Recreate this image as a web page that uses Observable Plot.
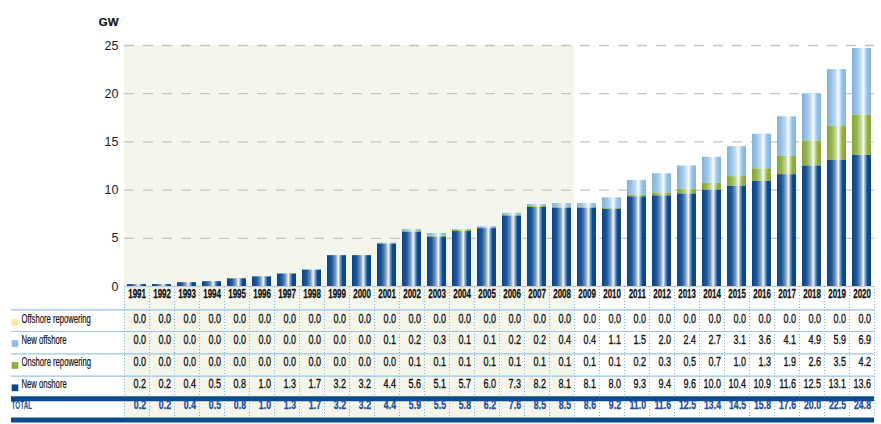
<!DOCTYPE html>
<html><head><meta charset="utf-8">
<script src="https://cdn.jsdelivr.net/npm/d3@7"></script>
<script src="https://cdn.jsdelivr.net/npm/@observablehq/plot@0.6"></script>
<style>
body{margin:0;background:#fff}
#chart svg{display:block;overflow:visible}
</style></head><body><div id="chart"></div>
<script>
const years = [1991,1992,1993,1994,1995,1996,1997,1998,1999,2000,2001,2002,2003,2004,2005,2006,2007,2008,2009,2010,2011,2012,2013,2014,2015,2016,2017,2018,2019,2020];
const offshoreRepowering = [0,0,0,0,0,0,0,0,0,0,0,0,0,0,0,0,0,0,0,0,0,0,0,0,0,0,0,0,0,0];
const newOffshore = [0,0,0,0,0,0,0,0,0,0,0.1,0.2,0.3,0.1,0.1,0.2,0.2,0.4,0.4,1.1,1.5,2.0,2.4,2.7,3.1,3.6,4.1,4.9,5.9,6.9];
const onshoreRepowering = [0,0,0,0,0,0,0,0,0,0,0,0.1,0.1,0.1,0.1,0.1,0.1,0.1,0.1,0.1,0.2,0.3,0.5,0.7,1.0,1.3,1.9,2.6,3.5,4.2];
const newOnshore = [0.2,0.2,0.4,0.5,0.8,1.0,1.3,1.7,3.2,3.2,4.4,5.6,5.1,5.7,6.0,7.3,8.2,8.1,8.1,8.0,9.3,9.4,9.6,10.0,10.4,10.9,11.6,12.5,13.1,13.6];
const totals = [0.2,0.2,0.4,0.5,0.8,1.0,1.3,1.7,3.2,3.2,4.4,5.9,5.5,5.8,6.2,7.6,8.5,8.5,8.6,9.2,11.0,11.6,12.5,13.4,14.5,15.8,17.6,20.0,22.5,24.8];
const seriesNames = ["Offshore repowering","New offshore","Onshore repowering","New onshore"];
const seriesValues = [offshoreRepowering, newOffshore, onshoreRepowering, newOnshore];
const seriesColors = ["#fde8a2","#8fbfe8","#8db13f","#0b4a8f"];
const yTicks = [0,5,10,15,20,25];
const historicEnd = 2008;
const unitLabel = "GW";
const totalLabel = "TOTAL";

// layout (style)
const W = 881, H = 424, mL = 124, mR = 7, mT = 45, mB = 138;
const frameH = H - mT - mB;
const yearDy = 11, rowDy = [36, 57, 79, 101.3], totalDy = 122.3;
const sepDy = [23.3, 45, 67.3, 89.7], thickDy = [112.2, 133.4];
const tableBottom = 131;
const leftExt = -113;

const tidy = seriesNames.flatMap((name, i) => years.map((yr, j) => ({year: yr, series: name, value: seriesValues[i][j]})));
const stackOrder = seriesNames.slice().reverse();
const gradIds = seriesColors.map((c, i) => `url(#grad${i})`);
const historic = years.filter(d => d <= historicEnd);
const fmt = d3.format(".1f");

const marks = [
  Plot.barY(historic, {x: d => d, y1: 0, y2: d3.max(yTicks), fill: "#f4f5eb", insetBottom: -tableBottom}),
  Plot.ruleY(yTicks.filter(d => d > 0), {stroke: "#c4c4c4", strokeDasharray: "10,9", strokeWidth: 1.3}),
  Plot.ruleY([0], {stroke: "#cccccc", strokeWidth: 1.3}),
  Plot.barY(tidy, Plot.stackY({x: "year", y: "value", z: "series", fill: "series", order: stackOrder, insetLeft: 3, insetRight: 3})),
  // table separators
  Plot.ruleX(years, {x: d => d, dx: -12.5, insetTop: frameH, insetBottom: -tableBottom, stroke: "#7fb2e2", strokeDasharray: "1,2"}),
  Plot.ruleX(years.slice(-1), {x: d => d, dx: 12.5, insetTop: frameH, insetBottom: -tableBottom, stroke: "#7fb2e2", strokeDasharray: "1,2"}),
  ...sepDy.map(dy => Plot.ruleY([0], {dy, insetLeft: leftExt, stroke: "#9cc3e6", strokeWidth: 1.2})),
  ...thickDy.map(dy => Plot.ruleY([0], {dy, insetLeft: leftExt, stroke: "#0d4a8c", strokeWidth: 5})),
  // years row
  Plot.text(years, {x: d => d, text: d => String(d), frameAnchor: "bottom", dy: yearDy, dx: 9, textAnchor: "end", fontWeight: "bold", fontSize: 12.5, fill: "#111", stroke: "#111", strokeWidth: 0.3, className: "t-year"}),
  // series rows
  ...seriesNames.map((name, i) => Plot.text(years, {x: d => d, text: (d, j) => fmt(seriesValues[i][j]), frameAnchor: "bottom", dy: rowDy[i], dx: 9, textAnchor: "end", fontSize: 12.5, fill: "#111", stroke: "#111", strokeWidth: 0.35, className: "t-val"})),
  Plot.text(years, {x: d => d, text: (d, j) => fmt(totals[j]), frameAnchor: "bottom", dy: totalDy, dx: 9, textAnchor: "end", fontWeight: "bold", fontSize: 12.5, fill: "#1f4f9c", stroke: "#1f4f9c", strokeWidth: 0.3, className: "t-total"}),
  // row labels
  ...seriesNames.map((name, i) => Plot.text([name], {text: d => d, frameAnchor: "bottom-left", dx: -103, dy: rowDy[i], textAnchor: "start", fontSize: 12, fill: "#111", stroke: "#111", strokeWidth: 0.2, className: "t-lab"})),
  ...seriesNames.map((name, i) => Plot.dot([name], {frameAnchor: "bottom-left", dx: -109.5, dy: rowDy[i], symbol: "square", r: 3.8, fill: seriesColors[i], stroke: null})),
  Plot.text([totalLabel], {text: d => d, frameAnchor: "bottom-left", dx: leftExt, dy: totalDy, textAnchor: "start", fontWeight: "bold", fontSize: 11, fill: "#1f4f9c", className: "t-totlab"}),
  // unit label
  Plot.text([unitLabel], {text: d => d, frameAnchor: "top-left", dx: -6, dy: -28, textAnchor: "end", fontWeight: "bold", fontSize: 11.5, fill: "#111", stroke: "#111", strokeWidth: 0.2})
];

const plot = Plot.plot({
  width: W, height: H,
  marginLeft: mL, marginRight: mR, marginTop: mT, marginBottom: mB,
  style: {fontFamily: '"Liberation Sans", Arial, sans-serif', background: "#fff", color: "#222", overflow: "visible"},
  x: {domain: years, padding: 0, axis: null},
  y: {domain: [0, d3.max(yTicks)], ticks: yTicks, tickSize: 0, tickPadding: 6, label: null, tickFormat: d => String(d)},
  color: {type: "ordinal", domain: seriesNames, range: gradIds},
  marks
});

// cylindrical gradients
const svg = d3.select(plot);
const defs = svg.insert("defs", ":first-child");
seriesColors.forEach((c, i) => {
  const g = defs.append("linearGradient").attr("id", "grad" + i).attr("x1", 0).attr("x2", 1).attr("y1", 0).attr("y2", 0);
  const mix = d3.interpolateRgb(c, "#ffffff");
  const dark = d3.interpolateRgb(c, "#000000");
  [[0, dark(0.08)], [0.25, mix(0.08)], [0.45, mix(0.45)], [0.6, mix(0.95)], [0.7, mix(0.45)], [0.82, c], [1, dark(0.05)]]
    .forEach(([o, col]) => g.append("stop").attr("offset", o).attr("stop-color", col));
});
svg.attr("font-size", 12.5);

// condensed lettering: horizontal squeeze around each text's anchor
function condense(selector, s) {
  svg.selectAll(selector).each(function() {
    const t = this.getAttribute("transform") || "";
    const x = this.getAttribute("x"), y = this.getAttribute("y");
    let tr = t;
    if (x != null || y != null) {
      tr += ` translate(${x || 0},${y || 0})`;
      this.removeAttribute("x"); this.removeAttribute("y");
    }
    this.setAttribute("transform", tr + ` scale(${s},1)`);
  });
}
condense(".t-year text", 0.64);
condense(".t-val text", 0.72);
condense(".t-total text", 0.7);
condense(".t-lab text", 0.64);
condense(".t-totlab text", 0.58);
document.getElementById("chart").appendChild(plot);
</script>
</body></html>
